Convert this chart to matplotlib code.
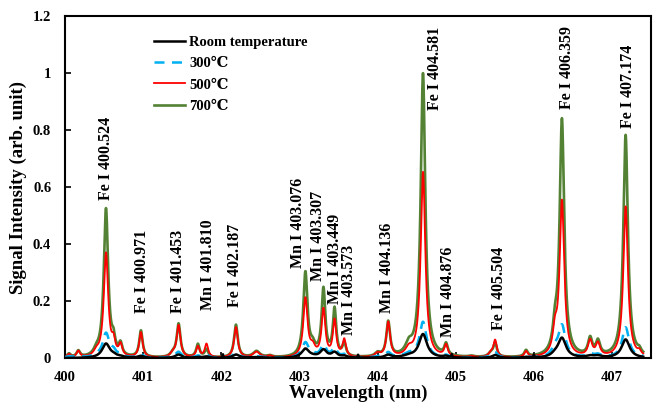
import numpy as np
import matplotlib
matplotlib.use('Agg')
import matplotlib.pyplot as plt
from matplotlib.ticker import FormatStrFormatter

plt.rcParams['font.family'] = ['Liberation Serif', 'DejaVu Serif']
plt.rcParams['font.weight'] = 'bold'

# Emission lines seen in the spectra (nm) and their half widths (nm)
LINE_CENTERS = [400.05, 400.17, 400.40, 400.524, 400.62, 400.71, 400.971, 401.38, 401.453,
                401.70, 401.81, 402.02, 402.187, 402.45, 402.62, 403.076, 403.17, 403.307,
                403.449, 403.573, 403.75, 404.00, 404.136, 404.40, 404.581, 404.876, 404.95,
                405.20, 405.45, 405.504, 405.90, 406.00, 406.27, 406.359, 406.72, 406.82,
                407.174, 407.35]
LINE_WIDTHS = [0.02, 0.02, 0.03, 0.026, 0.02, 0.02, 0.02, 0.03, 0.022,
               0.02, 0.02, 0.004, 0.022, 0.04, 0.03, 0.025, 0.03, 0.022,
               0.02, 0.02, 0.004, 0.03, 0.022, 0.04, 0.027, 0.02, 0.004,
               0.03, 0.03, 0.02, 0.02, 0.004, 0.025, 0.027, 0.025, 0.025,
               0.027, 0.02]

# Peak heights per line for each temperature (arb. unit)
ROOM = [0.0, 0.0, 0.0, 0.05, 0.006, 0.004, 0.007, 0.0, 0.012,
        0.003, 0.005, 0.012, 0.012, 0.003, 0.0, 0.031, 0.003, 0.027,
        0.018, 0.006, 0.01, 0.0, 0.01, 0.006, 0.083, 0.005, 0.01,
        0.0, 0.0, 0.01, 0.003, 0.01, 0.008, 0.069, 0.006, 0.006,
        0.065, 0.0]
T300 = [0.005, 0.008, 0.006, 0.085, 0.018, 0.01, 0.013, 0.004, 0.02,
        0.007, 0.01, 0.0, 0.018, 0.005, 0.002, 0.052, 0.008, 0.042,
        0.032, 0.01, 0.0, 0.004, 0.018, 0.012, 0.125, 0.008, 0.0,
        0.0, 0.004, 0.018, 0.005, 0.0, 0.025, 0.112, 0.012, 0.01,
        0.107, 0.004]
T500 = [0.012, 0.022, 0.015, 0.365, 0.045, 0.04, 0.088, 0.013, 0.112,
        0.038, 0.047, 0.0, 0.107, 0.02, 0.006, 0.205, 0.03, 0.165,
        0.127, 0.06, 0.0, 0.013, 0.122, 0.025, 0.65, 0.04, 0.0,
        0.004, 0.013, 0.058, 0.02, 0.0, 0.075, 0.545, 0.055, 0.045,
        0.53, 0.013]
T700 = [0.013, 0.022, 0.016, 0.52, 0.045, 0.04, 0.093, 0.013, 0.117,
        0.046, 0.028, 0.0, 0.115, 0.022, 0.006, 0.295, 0.03, 0.235,
        0.165, 0.045, 0.0, 0.013, 0.122, 0.035, 0.995, 0.04, 0.0,
        0.004, 0.013, 0.048, 0.022, 0.0, 0.075, 0.83, 0.06, 0.05,
        0.78, 0.013]

# Line broadening factor per temperature
WIDTH_SCALE = {'room': 2.3, '300': 2.0, '500': 1.3, '700': 1.3}

# Peak annotations: label, x position, y of label base
LABELS = ['Fe I 400.524', 'Fe I 400.971', 'Fe I 401.453', 'Mn I 401.810', 'Fe I 402.187',
          'Mn I 403.076', 'Mn I 403.307', 'Mn I 403.449', 'Mn I 403.573', 'Mn I 404.136',
          'Fe I 404.581', 'Mn I 404.876', 'Fe I 405.504', 'Fe I 406.359', 'Fe I 407.174']
LABEL_X = [400.53, 400.98, 401.45, 401.83, 402.18,
           402.98, 403.24, 403.45, 403.64, 404.12,
           404.73, 404.90, 405.55, 406.42, 407.21]
LABEL_Y = [0.555, 0.16, 0.158, 0.17, 0.18,
           0.316, 0.27, 0.19, 0.08, 0.158,
           0.87, 0.074, 0.098, 0.873, 0.807]

X_START, X_END = 400.0, 407.4


def spectrum(wl, heights, scale):
    out = np.zeros_like(wl)
    for c, w, h in zip(LINE_CENTERS, LINE_WIDTHS, heights):
        w = w * scale if w > 0.005 else w
        out += h / (1.0 + ((wl - c) / w) ** 2)
    return out


def main():
    wl = np.linspace(X_START, X_END, 4000)

    fig = plt.figure(figsize=(6.57, 4.07), dpi=100)
    ax = fig.add_axes([0.099, 0.12, 0.892, 0.841])

    ax.plot(wl, spectrum(wl, T700, WIDTH_SCALE['700']), color='#548235', lw=1.9,
            label='700\u2103', zorder=2)
    ax.plot(wl, spectrum(wl, T500, WIDTH_SCALE['500']), color='#ff0000', lw=1.3,
            label='500\u2103', zorder=3)
    ax.plot(wl, spectrum(wl, T300, WIDTH_SCALE['300']), color='#00b0f0', lw=1.8,
            ls=(0, (4, 3)), label='300\u2103', zorder=4)
    ax.plot(wl, spectrum(wl, ROOM, WIDTH_SCALE['room']), color='black', lw=1.8,
            label='Room temperature', zorder=5)

    for text, x, y in zip(LABELS, LABEL_X, LABEL_Y):
        ax.text(x, y, text, rotation=90, ha='center', va='bottom',
                fontsize=11.5, fontweight='bold')

    ax.set_xlim(400, 407.5)
    ax.set_ylim(0, 1.2)
    ax.set_xticks(range(400, 408))
    ax.set_yticks([0, 0.2, 0.4, 0.6, 0.8, 1.0, 1.2])
    ax.yaxis.set_major_formatter(FormatStrFormatter('%g'))
    ax.tick_params(direction='in', length=4, width=1.2, labelsize=10.5)
    ax.tick_params(axis='y', pad=10)
    ax.tick_params(axis='x', pad=9)
    for lab in ax.get_xticklabels() + ax.get_yticklabels():
        lab.set_fontweight('bold')
    for sp in ax.spines.values():
        sp.set_linewidth(1.5)

    ax.set_xlabel('Wavelength (nm)', fontsize=13.5, fontweight='bold', labelpad=1)
    ax.set_ylabel('Signal Intensity (arb. unit)', fontsize=13.5, fontweight='bold', labelpad=4)

    handles, labels = ax.get_legend_handles_labels()
    order = [3, 2, 1, 0]
    ax.legend([handles[i] for i in order], [labels[i] for i in order],
              loc='upper left', bbox_to_anchor=(0.13, 0.98), frameon=False,
              prop={'weight': 'bold', 'size': 10.5}, handlelength=2.1,
              handletextpad=0.3, labelspacing=0.55)

    fig.savefig('out.png', dpi=100)


if __name__ == '__main__':
    main()
